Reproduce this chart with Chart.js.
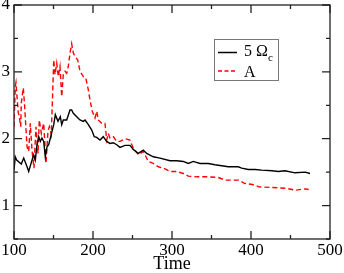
<!DOCTYPE html>
<html>
<head>
<meta charset="utf-8">
<script src="https://cdn.jsdelivr.net/npm/chart.js@4"></script>
<style>
  html, body { margin: 0; padding: 0; background: #fff; }
  #wrap { width: 344px; height: 273px; }
</style>
</head>
<body>
<div id="wrap"><canvas id="stage" width="344" height="273"></canvas></div>
<script>
// 5 Omega_c (black solid)
const timeOmega = [100, 101.6, 103.4, 109.2, 112.3, 116.5, 118.6, 122.8, 124.9, 127, 129.1, 131.3, 133.3, 135.4, 137.6, 139.6, 141.8, 143.9, 146,
  150.3, 152.3, 155.7, 158.6, 160.4, 162.4, 166.7, 170.9, 173, 175.1, 179.4, 183.5, 187.7, 189.9, 194.1, 198.4, 201.6, 204.7, 208.9, 213,
  217.3, 221.5, 225.7, 230, 234.2, 240.5, 246.8, 251, 257.3, 263.7, 268, 276.3, 284.8, 297.5, 306, 314.3, 320.6, 327, 335.4, 346, 354.4,
  371.3, 383.9, 388.2, 396.6, 405.4, 413.5, 426.6, 434.6, 443, 455.7, 468.4, 474.7];
const omegaVals = [1.53, 1.73, 1.68, 1.62, 1.71, 1.58, 1.51, 1.68, 1.76, 1.68, 1.91, 2.03, 1.96, 2.01, 1.96, 1.73, 1.88, 1.91, 2.01,
  2.21, 2.36, 2.26, 2.33, 2.21, 2.28, 2.28, 2.43, 2.43, 2.38, 2.33, 2.28, 2.26, 2.28, 2.21, 2.13, 2.03, 2.02, 1.98, 2.03,
  1.96, 1.93, 1.94, 1.91, 1.87, 1.9, 1.9, 1.84, 1.78, 1.83, 1.78, 1.73, 1.71, 1.67, 1.67, 1.66, 1.63, 1.66, 1.63, 1.63, 1.61,
  1.58, 1.58, 1.56, 1.54, 1.54, 1.53, 1.52, 1.51, 1.52, 1.49, 1.5, 1.48];

// A (red dashed)
const timeA = [100, 101.6, 102.5, 103.8, 105.4, 106.7, 108.5, 109.2, 111.4, 111.8, 113.5, 116.5, 118.6, 120.6, 122.8, 125.3, 127.8, 130.4,
  132, 134.6, 137.6, 140.5, 143, 144.7, 147.2, 148.7, 150.3, 151.9, 154.1, 156.1, 158.2, 160.4, 162.4, 164.6, 166.7, 168.7, 170.9, 173,
  175.1, 177.2, 180.6, 183.5, 187.7, 190.8, 194.1, 196.2, 199.1, 202.5, 204.7, 206.7, 211, 215.2, 217.3, 219.4, 221.5, 225.7, 230, 234.2,
  240.5, 246.8, 251, 257.3, 263.7, 270, 276.3, 282.7, 289, 297.5, 306, 314.3, 320.6, 331.3, 346, 358.6, 367.5, 384.2, 392.4, 405.1,
  409.7, 426.6, 443.4, 456.1, 468.7, 473];
const aVals = [2.18, 2.78, 2.84, 2.63, 2.39, 2.33, 2.18, 2.53, 2.73, 2.76, 2.48, 1.88, 1.81, 2.23, 1.83, 1.56, 2.18, 1.78,
  2.28, 2.08, 2.23, 1.63, 2.11, 2.18, 2.06, 2.6, 3.18, 2.96, 3.13, 2.93, 3.08, 2.63, 2.96, 3.01, 2.98, 3.08, 3.28, 3.42,
  3.28, 3.23, 3.18, 3.01, 2.93, 2.91, 2.73, 2.58, 2.41, 2.31, 2.41, 2.28, 2.23, 2.23, 1.98, 2.08, 2.01, 2.03, 1.96, 1.96,
  2.0, 1.98, 1.86, 1.76, 1.81, 1.66, 1.63, 1.58, 1.56, 1.51, 1.51, 1.48, 1.44, 1.43, 1.43, 1.42, 1.38, 1.38, 1.33, 1.31,
  1.28, 1.27, 1.26, 1.23, 1.25, 1.24];

const xTickLabels = ['100', '200', '300', '400', '500'];
const yTickLabels = ['1', '2', '3', '4'];

const serif = "'Liberation Serif', 'DejaVu Serif', serif";

function toPoints(xs, ys) {
  return xs.map((x, i) => ({ x: x, y: ys[i] }));
}

// frame + inward ticks on all four sides
const frameTicks = {
  id: 'frameTicks',
  afterDatasetsDraw(chart) {
    const ctx = chart.ctx;
    const a = chart.chartArea;
    const xs = chart.scales.x, ys = chart.scales.y;
    ctx.save();
    ctx.strokeStyle = '#222';
    ctx.lineWidth = 1.3;
    ctx.strokeRect(a.left, a.top, a.right - a.left, a.bottom - a.top);
    ctx.beginPath();
    xs.ticks.forEach(t => {
      const p = xs.getPixelForValue(t.value);
      const len = t.value % 100 === 0 ? 8 : 4;
      ctx.moveTo(p, a.bottom); ctx.lineTo(p, a.bottom - len);
      ctx.moveTo(p, a.top); ctx.lineTo(p, a.top + len);
    });
    ys.ticks.forEach(t => {
      const p = ys.getPixelForValue(t.value);
      const len = Number.isInteger(t.value) ? 8 : 4;
      ctx.moveTo(a.left, p); ctx.lineTo(a.left + len, p);
      ctx.moveTo(a.right, p); ctx.lineTo(a.right - len, p);
    });
    ctx.stroke();
    ctx.restore();
  }
};

// legend box with subscript
const legendBox = {
  id: 'legendBox',
  afterDraw(chart) {
    const ctx = chart.ctx;
    ctx.save();
    ctx.fillStyle = '#fff';
    ctx.fillRect(214.5, 39.5, 64, 41);
    ctx.strokeStyle = '#777';
    ctx.lineWidth = 1;
    ctx.strokeRect(214.5, 39.5, 64, 41);

    ctx.lineWidth = 1.5;
    ctx.strokeStyle = '#000';
    ctx.beginPath(); ctx.moveTo(218, 52.5); ctx.lineTo(237, 52.5); ctx.stroke();
    ctx.strokeStyle = '#ff0000';
    ctx.setLineDash([4, 2.5]);
    ctx.beginPath(); ctx.moveTo(218, 71); ctx.lineTo(237, 71); ctx.stroke();
    ctx.setLineDash([]);

    ctx.fillStyle = '#000';
    ctx.textBaseline = 'alphabetic';
    ctx.font = '16px ' + serif;
    ctx.fillText('5 Ω', 244, 56);
    ctx.font = '11px ' + serif;
    ctx.fillText('c', 268, 61);
    ctx.font = '16px ' + serif;
    ctx.fillText('A', 244, 77);
    ctx.restore();
  }
};

new Chart(document.getElementById('stage'), {
  type: 'line',
  data: {
    datasets: [{
      label: '5 Ωc',
      data: toPoints(timeOmega, omegaVals),
      borderColor: '#000',
      borderWidth: 1.4,
      pointRadius: 0,
      tension: 0
    }, {
      label: 'A',
      data: toPoints(timeA, aVals),
      borderColor: '#ff0000',
      borderWidth: 1.4,
      borderDash: [5, 3],
      pointRadius: 0,
      tension: 0
    }]
  },
  options: {
    responsive: false,
    animation: false,
    devicePixelRatio: 1,
    layout: { padding: { top: 5, right: 14, left: 0, bottom: 0 } },
    plugins: { legend: { display: false }, tooltip: { enabled: false } },
    scales: {
      x: {
        type: 'linear',
        min: 100, max: 500,
        grid: { display: false, drawTicks: false },
        border: { display: false },
        ticks: {
          stepSize: 50, autoSkip: false, maxRotation: 0, padding: 1,
          color: '#000', font: { family: serif, size: 17 },
          callback: v => xTickLabels.includes(String(v)) ? String(v) : ''
        },
        title: {
          display: true, text: 'Time', color: '#000',
          font: { family: serif, size: 18 }, padding: { top: 0, bottom: -2 }
        },
        afterFit(s) { s.height = 34; s.paddingLeft = 0; s.paddingRight = 0; }
      },
      y: {
        min: 0.5, max: 4,
        grid: { display: false, drawTicks: false },
        border: { display: false },
        ticks: {
          stepSize: 0.5, autoSkip: false, padding: 4,
          color: '#000', font: { family: serif, size: 17 },
          callback: v => yTickLabels.includes(String(v)) ? String(v) : ''
        },
        afterFit(s) { s.width = 14; s.paddingTop = 0; s.paddingBottom = 0; }
      }
    }
  },
  plugins: [frameTicks, legendBox]
});
</script>
</body>
</html>
